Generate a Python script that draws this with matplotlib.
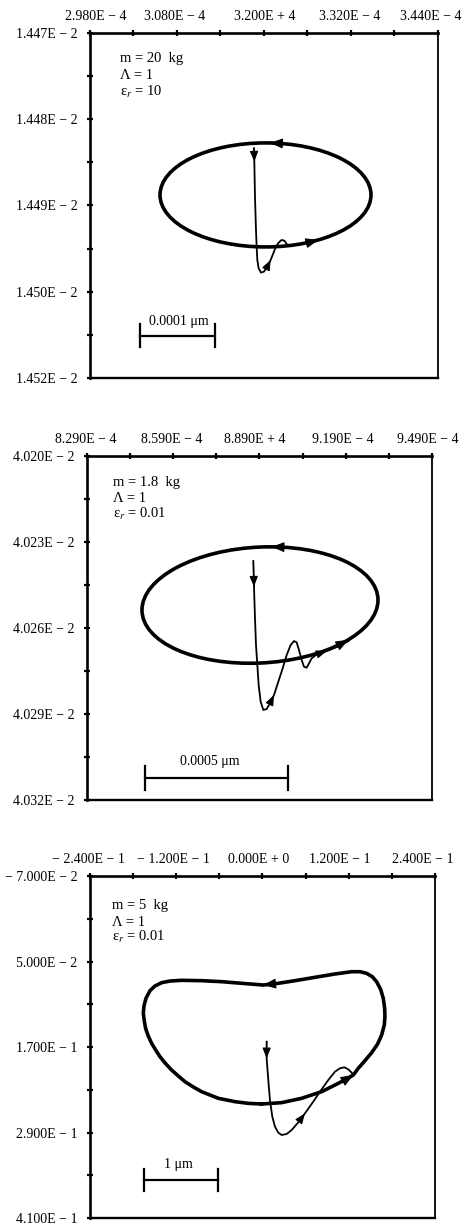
import numpy as np
import matplotlib
matplotlib.use("Agg")
import matplotlib.pyplot as plt
from matplotlib.patches import Ellipse
from matplotlib.transforms import ScaledTranslation

plt.rcParams['font.family'] = ['Liberation Serif', 'DejaVu Serif']
plt.rcParams['mathtext.fontset'] = 'stix'

# ---------------- panel 1 : m = 20 kg, eps_r = 10 ----------------
p1_xticks = [2.96, 3.08, 3.20, 3.32, 3.44]
p1_xlabels = ["2.980E − 4", "3.080E − 4", "3.200E + 4", "3.320E − 4", "3.440E − 4"]
p1_yticks = [1.447, 1.448, 1.449, 1.450, 1.451]
p1_ylabels = ["1.447E − 2", "1.448E − 2", "1.449E − 2", "1.450E − 2", "1.452E − 2"]
p1_orbit = dict(center=(3.2021, 1.448878), width=0.2910, height=0.0012058, angle=0.0)
p1_trans_x = [3.18621, 3.18667, 3.18759, 3.18897, 3.18988, 3.19080, 3.19264, 3.19586,
              3.20000, 3.20460, 3.20920, 3.21287, 3.21655, 3.22023, 3.22437, 3.22805,
              3.23126, 3.23494]
p1_trans_y = [1.448337, 1.448492, 1.448898, 1.449284, 1.449477, 1.449632, 1.449728, 1.449779,
              1.449767, 1.449709, 1.449632, 1.449555, 1.449477, 1.449431, 1.449400, 1.449408,
              1.449446, 1.449470]
p1_trans_arrows = [1, 10]
p1_orbit_arrows = [-87.5, 60.0]
p1_text = ["m = 20  kg", "Λ = 1", "ε$_r$ = 10"]
p1_bar = "0.0001 μm"

# ---------------- panel 2 : m = 1.8 kg, eps_r = 0.01 ----------------
p2_xticks = [8.29, 8.59, 8.89, 9.19, 9.49]
p2_xlabels = ["8.290E − 4", "8.590E − 4", "8.890E + 4", "9.190E − 4", "9.490E − 4"]
p2_yticks = [4.020, 4.023, 4.026, 4.029, 4.032]
p2_ylabels = ["4.020E − 2", "4.023E − 2", "4.026E − 2", "4.029E − 2", "4.032E − 2"]
p2_orbit = dict(center=(8.8917, 4.025198), width=0.8209, height=0.004047, angle=-0.0244)
p2_trans_x = [8.86856, 8.87088, 8.87435, 8.87783, 8.88247, 8.88711, 8.89406, 8.90334,
              8.91493, 8.92653, 8.94044, 8.95551, 8.97059, 8.98450, 8.99841, 9.01001,
              9.01928, 9.02740, 9.03667, 9.04479, 9.05407, 9.06218, 9.07146, 9.08885,
              9.12363, 9.15841, 9.19899]
p2_trans_y = [4.023663, 4.024558, 4.025663, 4.026593, 4.027291, 4.027988, 4.028570, 4.028860,
              4.028826, 4.028628, 4.028337, 4.027872, 4.027407, 4.026942, 4.026593, 4.026454,
              4.026500, 4.026767, 4.027116, 4.027349, 4.027384, 4.027233, 4.027058, 4.026919,
              4.026802, 4.026663, 4.026454]
p2_trans_arrows = [1, 10, 24]
p2_orbit_arrows = [-84.3, 41.6]
p2_text = ["m = 1.8  kg", "Λ = 1", "ε$_r$ = 0.01"]
p2_bar = "0.0005 μm"

# ---------------- panel 3 : m = 5 kg, eps_r = 0.01 ----------------
p3_xticks = [-0.24, -0.12, 0.0, 0.12, 0.24]
p3_xlabels = ["− 2.400E − 1", "− 1.200E − 1", "0.000E + 0", "1.200E − 1", "2.400E − 1"]
p3_yticks = [-0.07, 0.05, 0.17, 0.29, 0.41]
p3_ylabels = ["− 7.000E − 2", "5.000E − 2", "1.700E − 1", "2.900E − 1", "4.100E − 1"]
p3_orbit_x = [-0.0012, 0.0267, 0.0545, 0.0823, 0.1055, 0.1171, 0.1264, 0.1333, 0.1426,
              0.1519, 0.1602, 0.1658, 0.1695, 0.1704, 0.1700, 0.1681, 0.1644, 0.1588,
              0.1528, 0.1449, 0.1357, 0.1241, 0.1009, 0.0730, 0.0452, 0.0220, 0.0012,
              -0.0290, -0.0568, -0.0846, -0.1125, -0.1287, -0.1403, -0.1496, -0.1565,
              -0.1621, -0.1649, -0.1658, -0.1644, -0.1626, -0.1589, -0.1542, -0.1486,
              -0.1426, -0.1347, -0.1264, -0.1171, -0.1078, -0.0962, -0.0846, -0.0615,
              -0.0383, -0.0197, -0.0012]
p3_orbit_y = [0.2500, 0.2481, 0.2420, 0.2327, 0.2210, 0.2149, 0.2093, 0.1999, 0.1892,
              0.1780, 0.1658, 0.1532, 0.1391, 0.1274, 0.1157, 0.1017, 0.0891, 0.0783,
              0.0713, 0.0666, 0.0643, 0.0643, 0.0675, 0.0722, 0.0769, 0.0806, 0.0830,
              0.0806, 0.0783, 0.0769, 0.0764, 0.0774, 0.0797, 0.0844, 0.0909,
              0.1017, 0.1125, 0.1227, 0.1335, 0.1438, 0.1546, 0.1649, 0.1742,
              0.1836, 0.1934, 0.2023, 0.2107, 0.2187, 0.2261, 0.2327, 0.2420,
              0.2467, 0.2491, 0.2500]
p3_trans_x = [0.0058, 0.0058, 0.0081, 0.0104, 0.0137, 0.0174, 0.0220, 0.0267, 0.0336,
              0.0406, 0.0499, 0.0591, 0.0707, 0.0800, 0.0916, 0.1009, 0.1078, 0.1139,
              0.1194, 0.1241, 0.1264]
p3_trans_y = [0.1625, 0.1859, 0.2163, 0.2444, 0.2678, 0.2818, 0.2902, 0.2935, 0.2921,
              0.2865, 0.2757, 0.2631, 0.2467, 0.2327, 0.2163, 0.2046, 0.1999, 0.1985,
              0.2013, 0.2060, 0.2093]
p3_trans_arrows = [1, 11]
p3_orbit_arrows = [6, 26]
p3_text = ["m = 5  kg", "Λ = 1", "ε$_r$ = 0.01"]
p3_bar = "1 μm"

ORBIT_LW = 2.6
TRANS_LW = 1.3
TICK_FS = 10
NOTE_FS = 10.5


def style_axes(ax, xticks, xlabels, yticks, ylabels, label_shift):
    xt = np.asarray(xticks)
    yt = np.asarray(yticks)
    ax.set_xlim(xt[0], xt[-1])
    ax.set_ylim(yt[-1], yt[0])
    ax.xaxis.tick_top()
    ax.set_xticks(xt)
    ax.set_xticklabels(xlabels)
    ax.set_xticks((xt[:-1] + xt[1:]) / 2, minor=True)
    ax.set_yticks(yt)
    ax.set_yticklabels(ylabels)
    ax.set_yticks((yt[:-1] + yt[1:]) / 2, minor=True)
    ax.tick_params(which='both', direction='inout', length=4, width=1.6,
                   top=True, bottom=False, left=True, right=False,
                   labeltop=True, labelbottom=False, labelsize=TICK_FS, colors='black')
    ax.tick_params(axis='x', pad=5)
    ax.tick_params(axis='y', pad=7)
    # nudge the top tick labels sideways (shift given in pixels at 100 dpi)
    for tick, dx in zip(ax.xaxis.get_major_ticks(), label_shift):
        lab = tick.label2
        lab.set_transform(lab.get_transform() +
                          ScaledTranslation(dx / 100.0, 0, ax.figure.dpi_scale_trans))
    for side, lw in (('top', 1.9), ('left', 1.9), ('bottom', 1.7), ('right', 1.3)):
        ax.spines[side].set_linewidth(lw)
    ax.set_facecolor('white')


def arrow(ax, tail, tip, scale=9):
    ax.annotate('', xy=tip, xytext=tail,
                arrowprops=dict(arrowstyle='-|>,head_length=0.7,head_width=0.28',
                                color='black', lw=0.8, shrinkA=0, shrinkB=0,
                                mutation_scale=scale))


def ellipse_point(orb, s_deg):
    cx, cy = orb['center']
    a, b = orb['width'] / 2, orb['height'] / 2
    s = np.deg2rad(s_deg)
    al = np.deg2rad(orb['angle'])
    u, v = a * np.cos(s), b * np.sin(s)
    return (cx + u * np.cos(al) - v * np.sin(al), cy + u * np.sin(al) + v * np.cos(al))


def draw_ellipse_orbit(ax, orb, arrow_angles):
    ax.add_patch(Ellipse(orb['center'], orb['width'], orb['height'], angle=orb['angle'],
                         fill=False, edgecolor='black', lw=ORBIT_LW))
    for s in arrow_angles:
        arrow(ax, ellipse_point(orb, s + 4), ellipse_point(orb, s), scale=11)


def draw_transient(ax, xs, ys, arrows):
    ax.plot(xs, ys, color='black', lw=TRANS_LW, solid_joinstyle='round')
    for i in arrows:
        arrow(ax, (xs[i - 1], ys[i - 1]), (xs[i], ys[i]))


def annotate_panel(ax, lines, tx, ty, bar_label, bar_x, bar_y, cap, lab_x, lab_y):
    for line, yy in zip(lines, ty):
        ax.text(tx, yy, line, transform=ax.transAxes, va='center', ha='left', fontsize=NOTE_FS)
    tr = ax.transAxes
    ax.plot(bar_x, [bar_y, bar_y], color='black', lw=1.6, transform=tr, clip_on=False)
    for xb in bar_x:
        ax.plot([xb, xb], [bar_y - cap, bar_y + cap], color='black', lw=1.6, transform=tr)
    ax.text(lab_x, lab_y, bar_label, transform=tr, ha='center', va='center', fontsize=TICK_FS)


fig = plt.figure(figsize=(4.65, 12.24), dpi=100)
ax1 = fig.add_axes([0.1935, 0.6912, 0.7484, 0.2819])
ax2 = fig.add_axes([0.1871, 0.3464, 0.7419, 0.2810])
ax3 = fig.add_axes([0.1935, 0.0049, 0.7419, 0.2794])

# panel 1
style_axes(ax1, p1_xticks, p1_xlabels, p1_yticks, p1_ylabels, [6, -2, 1, -1, -7])
draw_ellipse_orbit(ax1, p1_orbit, p1_orbit_arrows)
draw_transient(ax1, p1_trans_x, p1_trans_y, p1_trans_arrows)
annotate_panel(ax1, p1_text, 0.086, [0.925, 0.876, 0.829], p1_bar,
               [0.144, 0.359], 0.122, 0.033, 0.254, 0.165)

# panel 2
style_axes(ax2, p2_xticks, p2_xlabels, p2_yticks, p2_ylabels, [-1, -2, -5, -3, -4])
draw_ellipse_orbit(ax2, p2_orbit, p2_orbit_arrows)
draw_transient(ax2, p2_trans_x, p2_trans_y, p2_trans_arrows)
annotate_panel(ax2, p2_text, 0.075, [0.924, 0.878, 0.831], p2_bar,
               [0.168, 0.583], 0.064, 0.036, 0.357, 0.113)

# panel 3
style_axes(ax3, p3_xticks, p3_xlabels, p3_yticks, p3_ylabels, [-2, -3, -4, -9, -12])
ax3.plot(p3_orbit_x, p3_orbit_y, color='black', lw=ORBIT_LW, solid_joinstyle='round',
         solid_capstyle='round')
for i in p3_orbit_arrows:
    arrow(ax3, (p3_orbit_x[i - 1], p3_orbit_y[i - 1]), (p3_orbit_x[i], p3_orbit_y[i]), scale=11)
draw_transient(ax3, p3_trans_x, p3_trans_y, p3_trans_arrows)
annotate_panel(ax3, p3_text, 0.064, [0.915, 0.865, 0.822], p3_bar,
               [0.157, 0.371], 0.111, 0.031, 0.255, 0.155)

fig.savefig('out.png', dpi=100, facecolor='white')
